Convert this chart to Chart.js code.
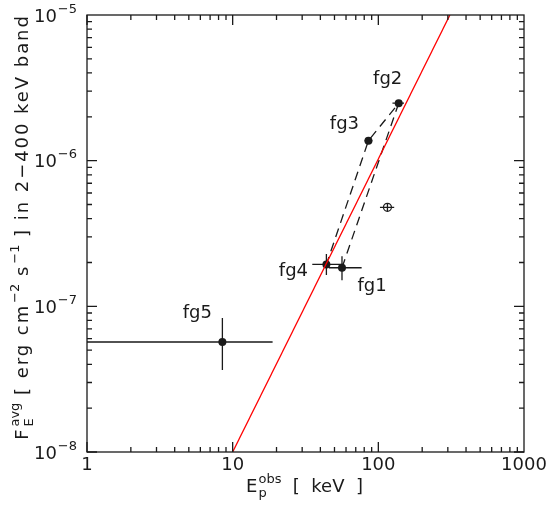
<!DOCTYPE html>
<html>
<head>
<meta charset="utf-8">
<script src="https://cdn.jsdelivr.net/npm/chart.js@4.4.1/dist/chart.umd.min.js"></script>
<style>
  html, body { margin: 0; padding: 0; background: #fff; }
  #wrap { width: 549px; height: 508px; }
</style>
</head>
<body>
<div id="wrap"><canvas id="chartEpeak" width="549" height="508"></canvas></div>
<script>
// segments fg1..fg5
const segLabels = ['fg1', 'fg2', 'fg3', 'fg4', 'fg5'];
const epeak   = [56.3, 138, 85.5, 44.0, 8.5];
const epeakLo = [45.8, 125, 80.5, 35.2, 0.8];
const epeakHi = [76.8, 150, 91.0, 57.2, 18.8];
const flux    = [1.84e-7, 2.48e-6, 1.37e-6, 1.94e-7, 5.69e-8];
const fluxLo  = [1.51e-7, 2.36e-6, 1.30e-6, 1.64e-7, 3.66e-8];
const fluxHi  = [2.21e-7, 2.61e-6, 1.44e-6, 2.29e-7, 8.30e-8];

// the open point (whole burst)
const totEpeak = [115.5];
const totEpeakLo = [102.6];
const totEpeakHi = [128.5];
const totFlux = [4.78e-7];
const totFluxLo = [4.49e-7];
const totFluxHi = [5.09e-7];

// path between the segments (fg1 -> fg2 -> fg3 -> fg4)
const pathOrder = [0, 1, 2, 3];

// red relation
const relE = [10, 310];
const relF = [1e-8, 1e-5];

// axis ticks
const xDecades = [1, 10, 100, 1000];
const yDecades = [1e-8, 1e-7, 1e-6, 1e-5];
const xTickLabels = ['1', '10', '100', '1000'];
const yTickExp = ['\u22128', '\u22127', '\u22126', '\u22125'];

const FONT = '"DejaVu Sans", sans-serif';
const INK = '#1a1a1a';

function toXY(xs, ys) {
  return xs.map((x, i) => ({ x: x, y: ys[i] }));
}

// text with super/subscripts: parts = [{t, sup, sub}], sp = extra letter spacing of main text
function richWidth(ctx, parts, big, small, sp) {
  let w = 0;
  parts.forEach(p => {
    ctx.letterSpacing = (sp || 0) + 'px';
    ctx.font = big + 'px ' + FONT;
    w += ctx.measureText(p.t).width;
    ctx.letterSpacing = '0px';
    ctx.font = small + 'px ' + FONT;
    let a = p.sup ? ctx.measureText(p.sup).width + 1 : 0;
    let b = p.sub ? ctx.measureText(p.sub).width + 1 : 0;
    w += Math.max(a, b);
  });
  return w;
}
function richDraw(ctx, parts, x, y, big, small, sp) {
  ctx.textAlign = 'left';
  ctx.textBaseline = 'alphabetic';
  parts.forEach(p => {
    ctx.letterSpacing = (sp || 0) + 'px';
    ctx.font = big + 'px ' + FONT;
    ctx.fillText(p.t, x, y);
    x += ctx.measureText(p.t).width;
    ctx.letterSpacing = '0px';
    ctx.font = small + 'px ' + FONT;
    let a = 0, b = 0;
    if (p.sup) { ctx.fillText(p.sup, x + 1, y - 9); a = ctx.measureText(p.sup).width + 1; }
    if (p.sub) { ctx.fillText(p.sub, x + 1, y + 5); b = ctx.measureText(p.sub).width + 1; }
    x += Math.max(a, b);
  });
}

const framePlugin = {
  id: 'frame',
  afterDraw(chart) {
    const ctx = chart.ctx;
    const a = chart.chartArea;
    const xs = chart.scales.x, ys = chart.scales.y;
    ctx.save();
    ctx.strokeStyle = INK;
    ctx.fillStyle = INK;
    ctx.lineWidth = 1.3;
    ctx.strokeRect(a.left, a.top, a.right - a.left, a.bottom - a.top);

    // inward ticks on all four sides
    ctx.beginPath();
    for (let d = 0; d < 3; d++) {
      for (let m = 1; m <= 9; m++) {
        const len = m === 1 ? 10 : 5;
        const xv = xDecades[d] * m;
        const px = xs.getPixelForValue(xv);
        ctx.moveTo(px, a.bottom); ctx.lineTo(px, a.bottom - len);
        ctx.moveTo(px, a.top); ctx.lineTo(px, a.top + len);
        const yv = yDecades[d] * m;
        const py = ys.getPixelForValue(yv);
        ctx.moveTo(a.left, py); ctx.lineTo(a.left + len, py);
        ctx.moveTo(a.right, py); ctx.lineTo(a.right - len, py);
      }
    }
    ctx.stroke();

    // tick labels
    ctx.font = '18px ' + FONT;
    ctx.textAlign = 'center';
    ctx.textBaseline = 'alphabetic';
    xDecades.forEach((v, i) => {
      ctx.fillText(xTickLabels[i], xs.getPixelForValue(v), a.bottom + 18);
    });
    yDecades.forEach((v, i) => {
      const parts = [{ t: '10', sup: yTickExp[i] }];
      const w = richWidth(ctx, parts, 18, 13);
      richDraw(ctx, parts, a.left - 10 - w, ys.getPixelForValue(v) + 6.5, 18, 13);
    });

    // axis titles
    const xt = [{ t: 'E', sup: 'obs', sub: 'p' }, { t: '  [  keV  ]' }];
    const xw = richWidth(ctx, xt, 18, 13);
    richDraw(ctx, xt, (a.left + a.right) / 2 - xw / 2 - 1, a.bottom + 40, 18, 13);

    const yt = [{ t: 'F', sup: 'avg', sub: 'E' }, { t: ' [ erg cm', sup: '\u22122' },
                { t: ' s', sup: '\u22121' }, { t: ' ] in 2\u2212400 keV band' }];
    const yw = richWidth(ctx, yt, 18, 13, 1.95);
    ctx.translate(28, 227);
    ctx.rotate(-Math.PI / 2);
    richDraw(ctx, yt, -yw / 2, 0, 18, 13, 1.95);
    ctx.restore();
  }
};

const errorBarPlugin = {
  id: 'errbars',
  beforeDatasetsDraw(chart) {
    const ctx = chart.ctx;
    const a = chart.chartArea;
    const xs = chart.scales.x, ys = chart.scales.y;
    ctx.save();
    ctx.beginPath();
    ctx.rect(a.left, a.top, a.right - a.left, a.bottom - a.top);
    ctx.clip();
    ctx.strokeStyle = INK;
    ctx.lineWidth = 1.3;
    const bars = (ex, elo, ehi, fx, flo, fhi) => {
      ex.forEach((e, i) => {
        const px = xs.getPixelForValue(e), py = ys.getPixelForValue(fx[i]);
        ctx.beginPath();
        ctx.moveTo(xs.getPixelForValue(elo[i]), py);
        ctx.lineTo(xs.getPixelForValue(ehi[i]), py);
        ctx.moveTo(px, ys.getPixelForValue(flo[i]));
        ctx.lineTo(px, ys.getPixelForValue(fhi[i]));
        ctx.stroke();
      });
    };
    bars(epeak, epeakLo, epeakHi, flux, fluxLo, fluxHi);
    bars(totEpeak, totEpeakLo, totEpeakHi, totFlux, totFluxLo, totFluxHi);
    ctx.restore();
  }
};

const labelPlugin = {
  id: 'seglabels',
  afterDatasetsDraw(chart) {
    const ctx = chart.ctx;
    const meta = chart.getDatasetMeta(2);
    const offs = [[30, 23], [-11, -19], [-24, -12], [-33, 12], [-25, -24]];
    ctx.save();
    ctx.fillStyle = INK;
    ctx.font = '18px ' + FONT;
    ctx.textAlign = 'center';
    ctx.textBaseline = 'alphabetic';
    meta.data.forEach((pt, i) => {
      ctx.fillText(segLabels[i], pt.x + offs[i][0], pt.y + offs[i][1]);
    });
    ctx.restore();
  }
};

new Chart(document.getElementById('chartEpeak'), {
  type: 'scatter',
  data: {
    datasets: [
      {
        // red relation
        type: 'line',
        data: toXY(relE, relF),
        borderColor: '#ff0000',
        borderWidth: 1.3,
        pointRadius: 0,
        fill: false
      },
      {
        // dashed path
        type: 'line',
        data: pathOrder.map(i => ({ x: epeak[i], y: flux[i] })),
        borderColor: INK,
        borderWidth: 1.3,
        borderDash: [9, 6],
        pointRadius: 0,
        fill: false
      },
      {
        data: toXY(epeak, flux),
        pointRadius: 4,
        pointBackgroundColor: INK,
        pointBorderColor: INK,
        pointBorderWidth: 0
      },
      {
        data: toXY(totEpeak, totFlux),
        pointRadius: 4,
        pointBackgroundColor: 'rgba(0,0,0,0)',
        pointBorderColor: INK,
        pointBorderWidth: 1.2
      }
    ]
  },
  options: {
    responsive: false,
    animation: false,
    layout: { padding: { left: 87, right: 25, top: 15, bottom: 56 } },
    plugins: { legend: { display: false }, tooltip: { enabled: false } },
    scales: {
      x: { type: 'logarithmic', min: 1, max: 1000, display: false },
      y: { type: 'logarithmic', min: 1e-8, max: 1e-5, display: false }
    }
  },
  plugins: [errorBarPlugin, labelPlugin, framePlugin]
});
</script>
</body>
</html>
